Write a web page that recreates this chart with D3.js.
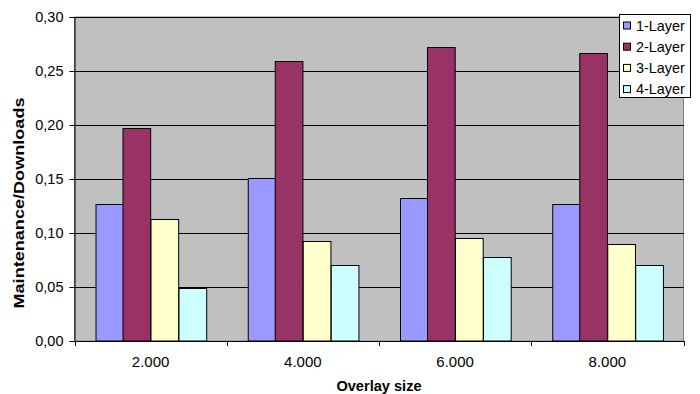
<!DOCTYPE html>
<html>
<head>
<meta charset="utf-8">
<script src="https://cdn.jsdelivr.net/npm/d3@7"></script>
<style>
  html, body { margin: 0; padding: 0; background: #fff; }
  svg { display: block; font-family: Arial, "Liberation Sans", sans-serif; }
</style>
</head>
<body>
<svg id="chart" width="700" height="394"></svg>
<script>
const categories = ["2.000", "4.000", "6.000", "8.000"];
const seriesNames = ["1-Layer", "2-Layer", "3-Layer", "4-Layer"];
const layer1 = [0.127, 0.151, 0.132, 0.127];
const layer2 = [0.197, 0.259, 0.272, 0.267];
const layer3 = [0.113, 0.093, 0.095, 0.090];
const layer4 = [0.049, 0.070, 0.078, 0.070];
const seriesColors = ["#9999FF", "#993366", "#FFFFCC", "#CCFFFF"];
const yTicks = [0, 0.05, 0.10, 0.15, 0.20, 0.25, 0.30];
const yTickLabels = ["0,00", "0,05", "0,10", "0,15", "0,20", "0,25", "0,30"];
const xTitle = "Overlay size";
const yTitle = "Maintenance/Downloads";

const seriesValues = [layer1, layer2, layer3, layer4];

const svg = d3.select("#chart");
const plot = { left: 74.5, right: 683.5, top: 17, bottom: 341 };

const x0 = d3.scaleBand().domain(categories).range([plot.left, plot.right]).paddingInner(0).paddingOuter(0);
const x1 = d3.scaleBand().domain(seriesNames).range([0, x0.bandwidth()]).paddingInner(0).paddingOuter(0.75);
const y = d3.scaleLinear().domain([0, 0.30]).range([plot.bottom, plot.top]);

// plot area background
svg.append("rect")
  .attr("x", plot.left).attr("y", plot.top)
  .attr("width", plot.right - plot.left).attr("height", plot.bottom - plot.top)
  .attr("fill", "#C0C0C0").attr("stroke", "#808080").attr("stroke-width", 1);

// gridlines
svg.append("g").selectAll("line")
  .data(yTicks.filter(d => d > 0))
  .join("line")
  .attr("x1", plot.left).attr("x2", plot.right)
  .attr("y1", d => Math.round(y(d)) + 0.5).attr("y2", d => Math.round(y(d)) + 0.5)
  .attr("stroke", "#000").attr("stroke-width", 1);

// bars
const groups = svg.append("g").selectAll("g")
  .data(categories)
  .join("g")
  .attr("transform", d => `translate(${x0(d)},0)`);

groups.selectAll("rect")
  .data((c, ci) => seriesNames.map((s, si) => ({ s, si, v: seriesValues[si][ci] })))
  .join("rect")
  .attr("x", d => Math.round(x1(d.s)) + 0.5)
  .attr("width", x1.bandwidth())
  .attr("y", d => Math.round(y(d.v)) + 0.5)
  .attr("height", d => y(0) - Math.round(y(d.v)) - 0.5)
  .attr("fill", d => seriesColors[d.si])
  .attr("stroke", "#000").attr("stroke-width", 1);

// y axis
const yAxis = d3.axisLeft(y)
  .tickValues(yTicks)
  .tickFormat((d, i) => yTickLabels[i])
  .tickSize(5).tickPadding(6);
const gy = svg.append("g").attr("transform", `translate(${plot.left},0)`).call(yAxis);
gy.select(".domain").attr("stroke", "#000");
gy.selectAll(".tick line").attr("stroke", "#000");
gy.selectAll("text").attr("font-size", "14.5px").attr("fill", "#000")
  .attr("font-family", "Arial, 'Liberation Sans', sans-serif");

// x axis
const xAxis = d3.axisBottom(x0).tickSize(0).tickPadding(15);
const gx = svg.append("g").attr("transform", `translate(0,${plot.bottom})`).call(xAxis);
gx.select(".domain").attr("stroke", "#000");
gx.selectAll("text").attr("font-size", "15px").attr("fill", "#000")
  .attr("font-family", "Arial, 'Liberation Sans', sans-serif");

// x boundary tick marks
const boundaries = categories.map(c => x0(c)).concat([x0(categories[categories.length - 1]) + x0.bandwidth()]);
svg.append("g").selectAll("line")
  .data(boundaries)
  .join("line")
  .attr("x1", d => Math.round(d) + 0.5).attr("x2", d => Math.round(d) + 0.5)
  .attr("y1", plot.bottom).attr("y2", plot.bottom + 5)
  .attr("stroke", "#000");

// axis titles
svg.append("text")
  .attr("x", (plot.left + plot.right) / 2).attr("y", 391)
  .attr("text-anchor", "middle")
  .attr("font-weight", "bold").attr("font-size", "14.6px")
  .text(xTitle);

svg.append("text")
  .attr("transform", "translate(24,203) rotate(-90)")
  .attr("text-anchor", "middle")
  .attr("font-weight", "bold").attr("font-size", "15px")
  .attr("textLength", 211).attr("lengthAdjust", "spacingAndGlyphs")
  .text(yTitle);

// legend
const legend = svg.append("g");
legend.append("rect")
  .attr("x", 619.5).attr("y", 14.5).attr("width", 71).attr("height", 83)
  .attr("fill", "#fff").attr("stroke", "#000");
const items = legend.selectAll("g.item")
  .data(seriesNames)
  .join("g").attr("class", "item")
  .attr("transform", (d, i) => `translate(0,${25.5 + i * 21.2})`);
items.append("rect")
  .attr("x", 623.5).attr("y", -3.5).attr("width", 7).attr("height", 7)
  .attr("fill", (d, i) => seriesColors[i]).attr("stroke", "#000");
items.append("text")
  .attr("x", 636).attr("y", 0).attr("dy", "0.36em")
  .attr("font-size", "14.4px")
  .text(d => d);
</script>
</body>
</html>
